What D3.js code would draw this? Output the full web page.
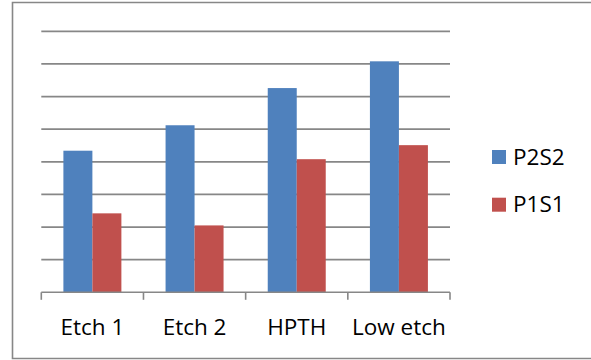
<!DOCTYPE html>
<html>
<head>
<meta charset="utf-8">
<script src="https://cdn.jsdelivr.net/npm/d3@7"></script>
<style>
html,body{margin:0;padding:0;background:#fff;}
svg{display:block;}
text{font-family:"Open Sans","Noto Sans",sans-serif;fill:#000;}
</style>
</head>
<body>
<svg id="chart" width="591" height="360"></svg>
<script>
const categories = ["Etch 1", "Etch 2", "HPTH", "Low etch"];
const seriesNames = ["P2S2", "P1S1"];
const p2s2 = [4.34, 5.12, 6.26, 7.08];
const p1s1 = [2.42, 2.05, 4.08, 4.51];
const yTicks = [0, 1, 2, 3, 4, 5, 6, 7, 8];
const colors = ["#4F81BD", "#C0504D"];

const svg = d3.select("#chart");
const plot = {left: 41.3, right: 450, top: 31.3, bottom: 292.3};

// outer frame
svg.append("path")
  .attr("d", "M592,2.5 H12.5 V358.5 H592")
  .attr("fill", "none").attr("stroke", "#878787").attr("stroke-width", 1.6);

const x = d3.scaleBand().domain(categories).range([plot.left, plot.right])
  .paddingInner(0).paddingOuter(0);
const xs = d3.scaleBand().domain(seriesNames).range([0, x.bandwidth()])
  .paddingInner(0).paddingOuter(0.762);
const y = d3.scaleLinear().domain([0, 8]).range([plot.bottom, plot.top]);

// gridlines
svg.append("g").selectAll("line").data(yTicks.slice(1)).join("line")
  .attr("x1", plot.left).attr("x2", plot.right)
  .attr("y1", d => y(d)).attr("y2", d => y(d))
  .attr("stroke", "#878787").attr("stroke-width", 1.8);

// bars
const data = [p2s2, p1s1];
const groups = svg.append("g").selectAll("g").data(categories).join("g")
  .attr("transform", d => `translate(${x(d)},0)`);
groups.selectAll("rect").data((c, i) => seriesNames.map((s, j) => ({s, v: data[j][i], j})))
  .join("rect")
  .attr("x", d => xs(d.s)).attr("width", xs.bandwidth())
  .attr("y", d => y(d.v)).attr("height", d => y(0) - y(d.v))
  .attr("fill", d => colors[d.j]);

// x axis
const xAxis = d3.axisBottom(x).tickSize(0).tickPadding(0);
const ax = svg.append("g").attr("transform", `translate(0,${plot.bottom})`).call(xAxis);
ax.select(".domain").remove();
ax.append("line").attr("x1", plot.left).attr("x2", plot.right).attr("y1", 0).attr("y2", 0)
  .attr("stroke", "#878787").attr("stroke-width", 1.6);
const tickPos = categories.map(c => x(c)).concat([plot.right]);
ax.selectAll(".sep").data(tickPos).join("line").attr("class", "sep")
  .attr("x1", d => d).attr("x2", d => d).attr("y1", 0).attr("y2", 7.5)
  .attr("stroke", "#878787").attr("stroke-width", 1.6);
ax.selectAll(".tick text")
  .attr("y", 43).attr("dy", 0)
  .style("font-family", '"Open Sans","Noto Sans",sans-serif')
  .style("font-size", "22.5px").attr("fill", "#000");

// legend
const legend = svg.append("g").selectAll("g").data(seriesNames).join("g")
  .attr("transform", (d, i) => `translate(492,${150 + i * 47.7})`);
legend.append("rect").attr("width", 14).attr("height", 14)
  .attr("fill", (d, i) => colors[i]);
legend.append("text").attr("x", 21).attr("y", 14.5)
  .style("font-size", "22.5px").text(d => d);
</script>
</body>
</html>
